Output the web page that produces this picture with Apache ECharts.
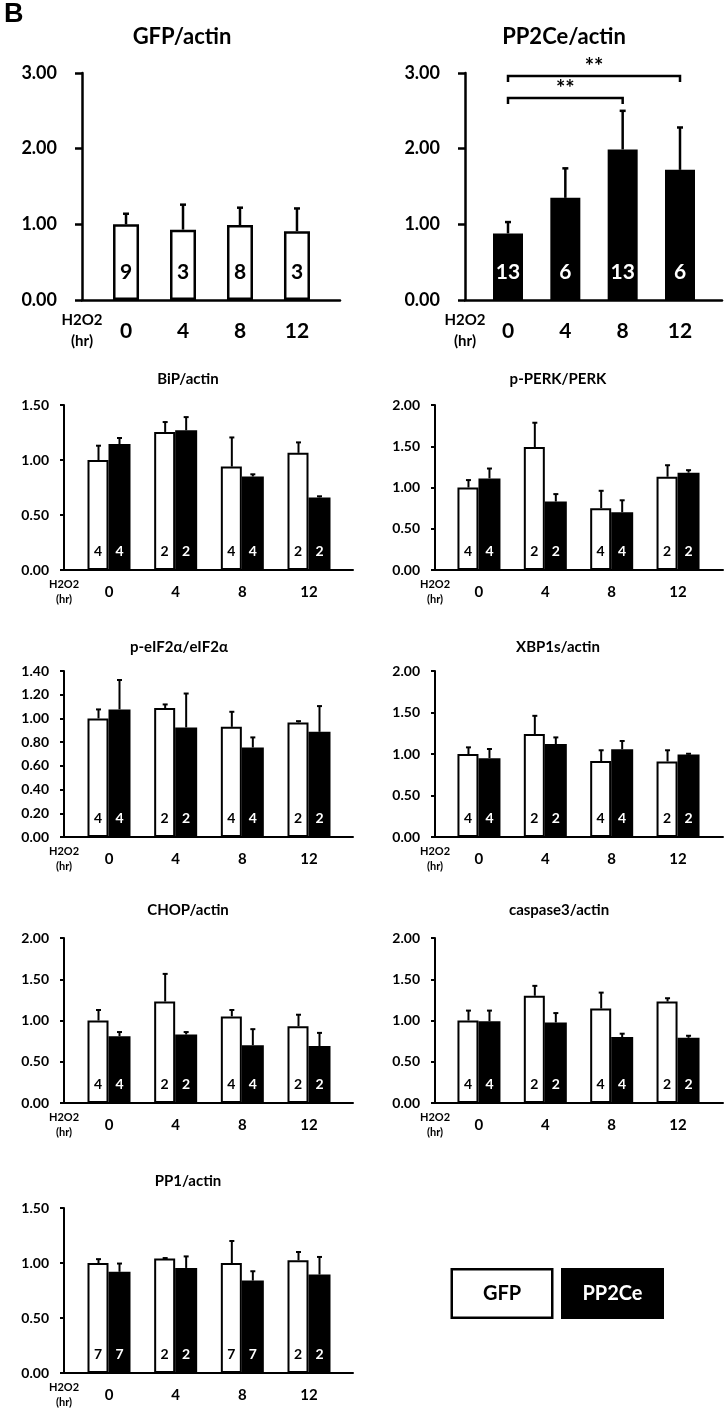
<!DOCTYPE html>
<html>
<head>
<meta charset="utf-8">
<script src="https://cdn.jsdelivr.net/npm/echarts@6/dist/echarts.min.js"></script>
<style>
  html, body { margin: 0; padding: 0; background: #fff; }
  #main { width: 725px; height: 1411px; }
</style>
</head>
<body>
<div id="main"></div>
<script>
const FONT = 'Lato';
const hours = [0, 4, 8, 12];

// top panels
const gfpMean = [1.00, 0.93, 0.99, 0.91];
const gfpSd = [0.14, 0.33, 0.23, 0.30];
const gfpN = [9, 3, 8, 3];
const pp2ceMean = [0.88, 1.35, 1.99, 1.72];
const pp2ceSd = [0.15, 0.39, 0.51, 0.56];
const pp2ceN = [13, 6, 13, 6];
// significance brackets: [from hr, to hr, height]
const pp2ceSig = [[0, 12, 2.96], [0, 8, 2.67]];

// small panels (GFP = white, PP2Ce = black)
const bipGfp = [1.00, 1.255, 0.94, 1.065];
const bipGfpSd = [0.13, 0.09, 0.265, 0.095];
const bipPp = [1.145, 1.27, 0.85, 0.66];
const bipPpSd = [0.055, 0.12, 0.02, 0.01];

const perkGfp = [1.00, 1.49, 0.75, 1.13];
const perkGfpSd = [0.09, 0.295, 0.21, 0.14];
const perkPp = [1.11, 0.83, 0.70, 1.18];
const perkPpSd = [0.12, 0.09, 0.145, 0.03];

const eifGfp = [1.00, 1.087, 0.929, 0.966];
const eifGfpSd = [0.076, 0.031, 0.127, 0.011];
const eifPp = [1.076, 0.924, 0.755, 0.887];
const eifPpSd = [0.248, 0.286, 0.085, 0.217];

const xbpGfp = [1.00, 1.24, 0.915, 0.91];
const xbpGfpSd = [0.08, 0.22, 0.13, 0.135];
const xbpPp = [0.95, 1.12, 1.057, 0.993];
const xbpPpSd = [0.11, 0.08, 0.10, 0.01];

const chopGfp = [1.00, 1.23, 1.05, 0.93];
const chopGfpSd = [0.127, 0.335, 0.077, 0.14];
const chopPp = [0.81, 0.83, 0.70, 0.69];
const chopPpSd = [0.05, 0.03, 0.195, 0.16];

const caspGfp = [1.00, 1.30, 1.145, 1.23];
const caspGfpSd = [0.12, 0.12, 0.193, 0.04];
const caspPp = [0.99, 0.976, 0.80, 0.79];
const caspPpSd = [0.13, 0.114, 0.04, 0.025];

const pp1Gfp = [1.00, 1.04, 1.00, 1.025];
const pp1GfpSd = [0.035, 0.005, 0.20, 0.075];
const pp1Pp = [0.92, 0.955, 0.84, 0.895];
const pp1PpSd = [0.075, 0.105, 0.085, 0.16];

const nSmall = [4, 2, 4, 2];
const nPp1 = [7, 2, 7, 2];

const BIG = {
  barW: { GFP: 26, PP2Ce: 30 }, border: 2.5, axisW: 2.5, tick: 7, errW: 2.5, cap: 6,
  yFont: 18, yMargin: 25, xFont: 21, xMargin: 31, hFont: 15, hLine: 21,
  nFont: 21, nDist: 17, titleFont: 22
};
const SMALL = {
  barW: { GFP: 21, PP2Ce: 22 }, border: 2, axisW: 2, tick: 4, errW: 2, cap: 5,
  yFont: 14, yMargin: 15, xFont: 15, xMargin: 22, hFont: 11, hLine: 15,
  nFont: 14, nDist: 12, titleFont: 15
};

const panels = [
  { title: 'GFP/actin', tx: 182, ty: 37, grid: { left: 82, top: 73, width: 258, height: 227 },
    xMin: -3.09, xMax: 15.02, yMax: 3, yStep: 1, st: BIG,
    groups: [{ name: 'GFP', mean: gfpMean, sd: gfpSd, n: gfpN }] },
  { title: 'PP2Ce/actin', tx: 564, ty: 37, grid: { left: 465, top: 73, width: 257, height: 227 },
    xMin: -3.0, xMax: 14.93, yMax: 3, yStep: 1, st: BIG, sig: pp2ceSig,
    groups: [{ name: 'PP2Ce', mean: pp2ceMean, sd: pp2ceSd, n: pp2ceN }] },
  { title: 'BiP/actin', tx: 188, ty: 379, grid: { left: 64, top: 405, width: 289, height: 165 },
    xMin: -2.7, xMax: 14.64, yMax: 1.5, yStep: 0.5, st: SMALL,
    groups: [{ name: 'GFP', mean: bipGfp, sd: bipGfpSd, n: nSmall }, { name: 'PP2Ce', mean: bipPp, sd: bipPpSd, n: nSmall }] },
  { title: 'p-PERK/PERK', tx: 558, ty: 379, grid: { left: 435, top: 405, width: 288, height: 165 },
    xMin: -2.65, xMax: 14.71, yMax: 2, yStep: 0.5, st: SMALL,
    groups: [{ name: 'GFP', mean: perkGfp, sd: perkGfpSd, n: nSmall }, { name: 'PP2Ce', mean: perkPp, sd: perkPpSd, n: nSmall }] },
  { title: 'p-eIF2α/eIF2α', tx: 179, ty: 647, grid: { left: 64, top: 671, width: 289, height: 166 },
    xMin: -2.7, xMax: 14.64, yMax: 1.4, yStep: 0.2, st: SMALL,
    groups: [{ name: 'GFP', mean: eifGfp, sd: eifGfpSd, n: nSmall }, { name: 'PP2Ce', mean: eifPp, sd: eifPpSd, n: nSmall }] },
  { title: 'XBP1s/actin', tx: 558, ty: 647, grid: { left: 435, top: 671, width: 288, height: 166 },
    xMin: -2.65, xMax: 14.71, yMax: 2, yStep: 0.5, st: SMALL,
    groups: [{ name: 'GFP', mean: xbpGfp, sd: xbpGfpSd, n: nSmall }, { name: 'PP2Ce', mean: xbpPp, sd: xbpPpSd, n: nSmall }] },
  { title: 'CHOP/actin', tx: 188, ty: 910, grid: { left: 64, top: 938, width: 289, height: 165 },
    xMin: -2.7, xMax: 14.64, yMax: 2, yStep: 0.5, st: SMALL,
    groups: [{ name: 'GFP', mean: chopGfp, sd: chopGfpSd, n: nSmall }, { name: 'PP2Ce', mean: chopPp, sd: chopPpSd, n: nSmall }] },
  { title: 'caspase3/actin', tx: 559, ty: 910, grid: { left: 435, top: 938, width: 288, height: 165 },
    xMin: -2.65, xMax: 14.71, yMax: 2, yStep: 0.5, st: SMALL,
    groups: [{ name: 'GFP', mean: caspGfp, sd: caspGfpSd, n: nSmall }, { name: 'PP2Ce', mean: caspPp, sd: caspPpSd, n: nSmall }] },
  { title: 'PP1/actin', tx: 188, ty: 1181, grid: { left: 64, top: 1208, width: 289, height: 165 },
    xMin: -2.7, xMax: 14.64, yMax: 1.5, yStep: 0.5, st: SMALL,
    groups: [{ name: 'GFP', mean: pp1Gfp, sd: pp1GfpSd, n: nPp1 }, { name: 'PP2Ce', mean: pp1Pp, sd: pp1PpSd, n: nPp1 }] }
];

const grids = [], xAxes = [], yAxes = [], series = [];
const titles = [{
  text: 'B', left: 4, top: 15, padding: 0, textVerticalAlign: 'middle',
  textStyle: { fontFamily: 'Liberation Sans', fontWeight: 'bold', fontSize: 27, color: '#000' }
}];

function errorRender(offset, lw, cap) {
  return function (params, api) {
    const b = api.coord([api.value(0), api.value(1)]);
    const t = api.coord([api.value(0), api.value(2)]);
    const x = b[0] + offset;
    const st = { stroke: '#000', lineWidth: lw };
    return {
      type: 'group',
      children: [
        { type: 'line', shape: { x1: x, y1: b[1], x2: x, y2: t[1] }, style: st },
        { type: 'line', shape: { x1: x - cap / 2, y1: t[1], x2: x + cap / 2, y2: t[1] }, style: st }
      ]
    };
  };
}

function bracketRender(params, api) {
  const a = api.coord([api.value(0), api.value(2)]);
  const b = api.coord([api.value(1), api.value(2)]);
  return {
    type: 'group',
    children: [
      { type: 'polyline', shape: { points: [[a[0], a[1] + 6], a, b, [b[0], b[1] + 6]] },
        style: { stroke: '#000', lineWidth: 2.5, fill: null } },
      { type: 'text', x: (a[0] + b[0]) / 2, y: a[1] - 9,
        style: { text: '**', fill: '#000', font: 'bold 22px ' + FONT, align: 'center', verticalAlign: 'middle' } }
    ]
  };
}

panels.forEach(function (p, gi) {
  const st = p.st;
  grids.push(Object.assign({}, p.grid));
  titles.push({
    text: p.title, left: p.tx, top: p.ty, padding: 0, textAlign: 'center', textVerticalAlign: 'middle',
    textStyle: { fontFamily: FONT, fontWeight: 'bold', fontSize: st.titleFont, color: '#000' }
  });
  xAxes.push({
    gridIndex: gi, type: 'value', min: p.xMin, max: p.xMax,
    axisLine: { show: true, onZero: false, lineStyle: { color: '#000', width: st.axisW } },
    axisTick: { show: false },
    splitLine: { show: false },
    axisLabel: {
      customValues: [p.xMin].concat(hours),
      margin: st.xMargin,
      verticalAlign: 'middle',
      color: '#000', fontFamily: FONT, fontWeight: 'bold', fontSize: st.xFont,
      formatter: function (v) { return v < 0 ? '{h|H2O2}\n{h|(hr)}' : String(v); },
      rich: { h: { fontFamily: FONT, fontWeight: 'bold', fontSize: st.hFont, lineHeight: st.hLine, color: '#000' } }
    }
  });
  yAxes.push({
    gridIndex: gi, type: 'value', min: 0, max: p.yMax, interval: p.yStep,
    axisLine: { show: true, onZero: false, lineStyle: { color: '#000', width: st.axisW } },
    axisTick: { show: true, length: st.tick, lineStyle: { color: '#000', width: st.axisW } },
    splitLine: { show: false },
    axisLabel: {
      margin: st.yMargin, color: '#000', fontFamily: FONT, fontWeight: 'bold', fontSize: st.yFont,
      formatter: function (v) { return v.toFixed(2); }
    }
  });

  const two = p.groups.length > 1;
  p.groups.forEach(function (g, k) {
    const white = g.name === 'GFP';
    const bw = st.barW[g.name];
    series.push({
      name: g.name, type: 'bar', xAxisIndex: gi, yAxisIndex: gi,
      barWidth: bw, barGap: '0%',
      data: hours.map(function (h, i) { return [h, g.mean[i]]; }),
      itemStyle: white ? { color: '#fff', borderColor: '#000', borderWidth: st.border } : { color: '#000' },
      label: {
        show: true, position: 'insideBottom', distance: st.nDist,
        color: white ? '#000' : '#fff', fontFamily: FONT, fontWeight: 'bold', fontSize: st.nFont,
        formatter: function (q) { return String(g.n[q.dataIndex]); }
      },
      emphasis: { disabled: true },
      animation: false
    });
    const off = two ? (k === 0 ? -bw / 2 : st.barW.GFP / 2) : 0;
    series.push({
      type: 'custom', xAxisIndex: gi, yAxisIndex: gi, z: 5,
      data: hours.map(function (h, i) { return [h, g.mean[i], g.mean[i] + g.sd[i]]; }),
      encode: { x: 0, y: [1, 2] },
      renderItem: errorRender(off, st.errW, st.cap),
      silent: true, animation: false
    });
  });

  if (p.sig) {
    series.push({
      type: 'custom', xAxisIndex: gi, yAxisIndex: gi, z: 5,
      data: p.sig, encode: { x: [0, 1], y: 2 },
      renderItem: bracketRender, silent: true, animation: false
    });
  }
});

const legendBox = {
  width: 98, height: 46, align: 'center', lineHeight: 46,
  fontFamily: FONT, fontWeight: 'bold', fontSize: 20, borderColor: '#000', borderWidth: 2.5
};

const option = {
  backgroundColor: '#fff',
  animation: false,
  title: titles,
  grid: grids,
  xAxis: xAxes,
  yAxis: yAxes,
  series: series,
  legend: {
    left: 443, top: 1263, icon: 'none', itemWidth: 0, itemHeight: 50, itemGap: 5,
    selectedMode: false,
    data: ['GFP', 'PP2Ce'],
    formatter: function (name) { return name === 'GFP' ? '{w|GFP}' : '{k|PP2Ce}'; },
    textStyle: {
      rich: {
        w: Object.assign({}, legendBox, { color: '#000', backgroundColor: '#fff' }),
        k: Object.assign({}, legendBox, { color: '#fff', backgroundColor: '#000' })
      }
    }
  }
};

const chart = echarts.init(document.getElementById('main'), null, { renderer: 'canvas' });
chart.setOption(option);
window.onresize = function () { chart.resize(); };
</script>
</body>
</html>
